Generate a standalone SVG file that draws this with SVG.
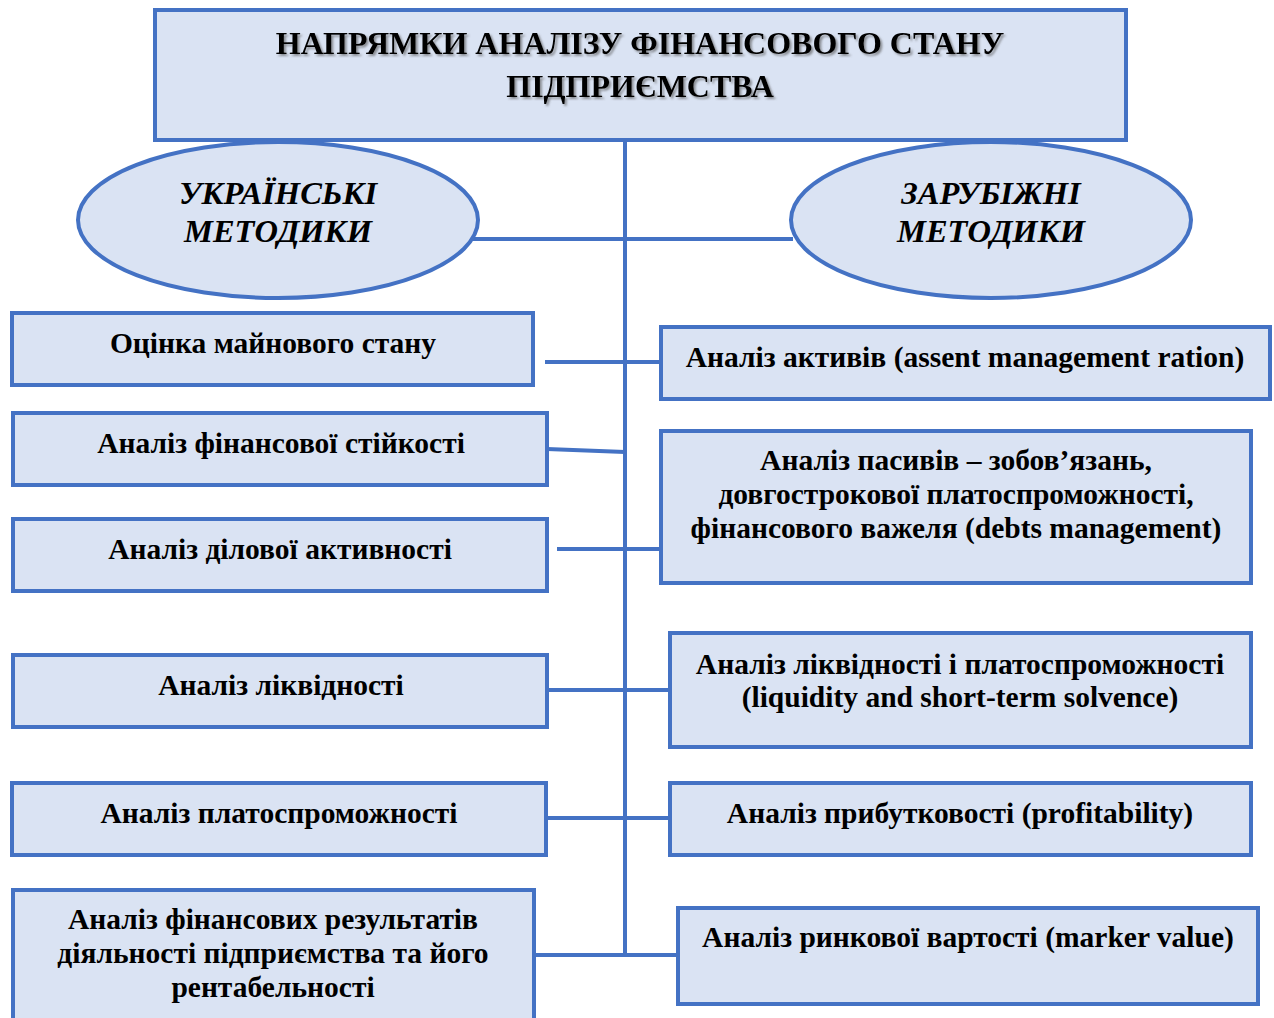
<svg xmlns="http://www.w3.org/2000/svg" width="1274" height="1018" viewBox="0 0 1274 1018">
<style>
.box{fill:#DAE3F3;stroke:#4472C4;stroke-width:4}
.ell{fill:#DAE3F3;stroke:#4472C4;stroke-width:4}
.ln{stroke:#4472C4;stroke-width:4;fill:none}
.t{font-family:"Liberation Serif","Times New Roman",serif;font-weight:bold;font-size:29.5px;fill:#000;text-anchor:middle}
.title{font-size:32px}
.it{font-style:italic;font-size:32.5px}
</style>
<defs>
<filter id="sh" x="-5%" y="-20%" width="110%" height="150%">
<feDropShadow dx="2" dy="2" stdDeviation="1.2" flood-color="#555" flood-opacity="0.6"/>
</filter>
</defs>
<rect width="1274" height="1018" fill="#fff"/>
<g id="connectors">
<line class="ln" x1="625" y1="140" x2="625" y2="957"/>
<line class="ln" x1="465" y1="239" x2="793" y2="239"/>
<line class="ln" x1="545" y1="362" x2="661" y2="362"/>
<polyline class="ln" points="547,449 625,452"/>
<line class="ln" x1="557" y1="549" x2="661" y2="549"/>
<line class="ln" x1="547" y1="690" x2="670" y2="690"/>
<line class="ln" x1="546" y1="818" x2="670" y2="818"/>
<line class="ln" x1="534" y1="955" x2="678" y2="955"/>
</g>
<g id="title">
<rect class="box" x="155" y="10" width="971" height="130"/>
<g filter="url(#sh)">
<text class="t title" x="640" y="54">НАПРЯМКИ АНАЛІЗУ ФІНАНСОВОГО СТАНУ</text>
<text class="t title" x="640" y="97">ПІДПРИЄМСТВА</text>
</g>
</g>
<g id="ukr">
<ellipse class="ell" cx="278" cy="220" rx="200" ry="78"/>
<text class="t it" x="278" y="204">УКРАЇНСЬКІ</text>
<text class="t it" x="278" y="242">МЕТОДИКИ</text>
</g>
<g id="for">
<ellipse class="ell" cx="991" cy="220" rx="200" ry="78"/>
<text class="t it" x="991" y="204">ЗАРУБІЖНІ</text>
<text class="t it" x="991" y="242">МЕТОДИКИ</text>
</g>
<g id="l1">
<rect class="box" x="12" y="313" width="521" height="72"/>
<text class="t" x="273" y="353">Оцінка майнового стану</text>
</g>
<g id="l2">
<rect class="box" x="13" y="413" width="534" height="72"/>
<text class="t" x="281" y="453">Аналіз фінансової стійкості</text>
</g>
<g id="l3">
<rect class="box" x="13" y="519" width="534" height="72"/>
<text class="t" x="280" y="559">Аналіз ділової активності</text>
</g>
<g id="l4">
<rect class="box" x="13" y="655" width="534" height="72"/>
<text class="t" x="281" y="695">Аналіз ліквідності</text>
</g>
<g id="l5">
<rect class="box" x="12" y="783" width="534" height="72"/>
<text class="t" x="279" y="823">Аналіз платоспроможності</text>
</g>
<g id="l6">
<rect class="box" x="13" y="890" width="521" height="140"/>
<text class="t" x="273" y="929">Аналіз фінансових результатів</text>
<text class="t" x="273" y="963">діяльності підприємства та його</text>
<text class="t" x="273" y="997">рентабельності</text>
</g>
<g id="r1">
<rect class="box" x="661" y="327" width="609" height="72"/>
<text class="t" x="965" y="367">Аналіз активів (assent management ration)</text>
</g>
<g id="r2">
<rect class="box" x="661" y="431" width="590" height="152"/>
<text class="t" x="956" y="470">Аналіз пасивів – зобов’язань,</text>
<text class="t" x="956" y="504">довгострокової платоспроможності,</text>
<text class="t" x="956" y="538">фінансового важеля (debts management)</text>
</g>
<g id="r3">
<rect class="box" x="670" y="633" width="581" height="114"/>
<text class="t" x="960" y="674">Аналіз ліквідності і платоспроможності</text>
<text class="t" x="960" y="707">(liquidity and short-term solvence)</text>
</g>
<g id="r4">
<rect class="box" x="670" y="783" width="581" height="72"/>
<text class="t" x="960" y="823">Аналіз прибутковості (profitability)</text>
</g>
<g id="r5">
<rect class="box" x="678" y="908" width="580" height="96"/>
<text class="t" x="968" y="947">Аналіз ринкової вартості (marker value)</text>
</g>
</svg>
